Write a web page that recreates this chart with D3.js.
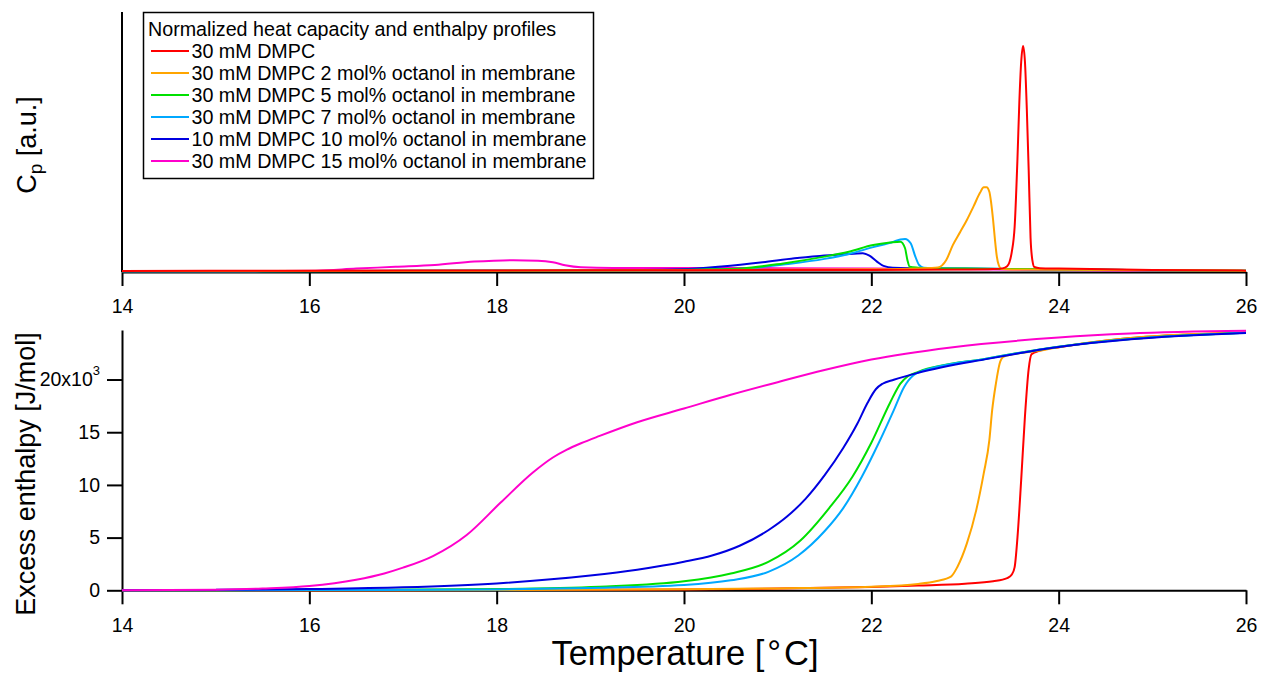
<!DOCTYPE html>
<html><head><meta charset="utf-8">
<script src="https://cdn.jsdelivr.net/npm/d3@7"></script>
<style>
html,body{margin:0;padding:0;background:#fff;}
svg{display:block;font-family:"Liberation Sans",Arial,Helvetica,sans-serif;}
</style></head>
<body>
<svg id="chart" width="1261" height="673"></svg>
<script>
// ---------- data ----------
const xTicks = [14, 16, 18, 20, 22, 24, 26];
const hTicks = [0, 5000, 10000, 15000, 20000];
const seriesNames = [
  "30 mM DMPC",
  "30 mM DMPC 2 mol% octanol in membrane",
  "30 mM DMPC 5 mol% octanol in membrane",
  "30 mM DMPC 7 mol% octanol in membrane",
  "10 mM DMPC 10 mol% octanol in membrane",
  "30 mM DMPC 15 mol% octanol in membrane"
];
const seriesColors = ["#ff0000", "#ffa500", "#00e000", "#00a8ff", "#0000e0", "#ff00cc"];

// heat capacity profiles [T (°C), Cp (a.u.)]
const cpRed = [[14,0.004],[16,0.006],[18,0.007],[20,0.008],[22,0.009],[23,0.011],[23.3,0.013],[23.4,0.016],[23.45,0.025],[23.5,0.09],[23.53,0.2],[23.56,0.5],[23.58,0.75],[23.6,0.93],[23.62,1.0],[23.64,0.93],[23.66,0.72],[23.68,0.45],[23.7,0.15],[23.72,0.05],[23.74,0.022],[23.8,0.017],[24,0.015],[24.5,0.012],[25,0.009],[26,0.006]];
const cpOrange = [[14,0.004],[18,0.006],[20,0.008],[22,0.012],[22.5,0.016],[22.71,0.02],[22.8,0.053],[22.87,0.119],[22.95,0.178],[23.02,0.23],[23.09,0.289],[23.16,0.35],[23.2,0.375],[23.23,0.375],[23.26,0.355],[23.28,0.304],[23.3,0.23],[23.32,0.142],[23.34,0.068],[23.36,0.031],[23.39,0.013],[23.5,0.011],[24,0.01],[25,0.008],[26,0.006]];
const cpGreen = [[14,0.003],[18,0.005],[19.5,0.008],[20.2,0.011],[20.62,0.016],[21.06,0.038],[21.5,0.068],[21.76,0.09],[22.02,0.119],[22.2,0.13],[22.31,0.134],[22.36,0.105],[22.385,0.053],[22.41,0.023],[22.5,0.019],[22.6,0.017],[23,0.015],[24,0.012],[25,0.008],[26,0.005]];
const cpTeal = [[14,0.003],[18,0.005],[19.5,0.007],[20.2,0.01],[20.62,0.014],[21.06,0.033],[21.5,0.058],[21.76,0.08],[22.02,0.11],[22.24,0.134],[22.31,0.144],[22.36,0.146],[22.42,0.127],[22.47,0.068],[22.51,0.031],[22.56,0.019],[22.7,0.017],[23,0.015],[24,0.012],[25,0.008],[26,0.005]];
const cpBlue = [[14,0.003],[17,0.005],[19,0.007],[19.97,0.012],[20.4,0.024],[20.84,0.043],[21.18,0.061],[21.45,0.071],[21.7,0.078],[21.91,0.083],[21.98,0.072],[22.06,0.046],[22.13,0.027],[22.23,0.019],[22.84,0.015],[23.9,0.012],[25,0.008],[26,0.005]];
const cpMagenta = [[14,0.003],[15,0.003],[15.5,0.004],[16.07,0.006],[16.5,0.015],[16.92,0.023],[17.34,0.031],[17.76,0.046],[17.97,0.05],[18.18,0.052],[18.44,0.05],[18.6,0.043],[18.73,0.03],[18.9,0.021],[19.24,0.018],[20,0.018],[21,0.017],[22,0.015],[23,0.012],[24,0.009],[25,0.006],[26,0.004]];

// excess enthalpy profiles [T (°C), H (J/mol)]
const hRed = [[14,0],[16,5],[18,20],[20,80],[21,160],[22,320],[22.5,450],[23,620],[23.3,850],[23.45,1150],[23.5,1500],[23.53,2200],[23.56,5000],[23.6,10500],[23.64,16500],[23.68,21000],[23.71,22400],[23.8,22750],[24.02,23090],[24.39,23560],[24.77,23940],[25.34,24260],[26,24450]];
const hOrange = [[14,0],[16,5],[18,25],[20,90],[21,180],[22,340],[22.5,600],[22.7,880],[22.85,1300],[22.92,2240],[23.02,4450],[23.12,7610],[23.2,11090],[23.26,14250],[23.29,17090],[23.33,19620],[23.37,21520],[23.41,22150],[23.5,22370],[23.84,22800],[24.02,23110],[24.39,23580],[24.77,23950],[25.34,24280],[26,24470]];
const hGreen = [[14,0],[16,30],[18,120],[19.1,340],[20,850],[20.5,1600],[20.9,2700],[21.24,4700],[21.55,7800],[21.8,10800],[22,14000],[22.2,17800],[22.31,19620],[22.39,20310],[22.5,20730],[23.24,22000],[24,23120],[24.77,23850],[26,24440]];
const hTeal = [[14,0],[16,20],[18,80],[19,220],[20,500],[20.5,950],[20.9,1750],[21.22,3300],[21.5,5600],[21.7,7800],[21.9,10800],[22.08,14000],[22.24,17100],[22.35,19300],[22.45,20410],[22.52,20730],[23.24,22000],[24,23120],[24.77,23850],[26,24440]];
const hBlue = [[14,0],[15,40],[16,120],[17,280],[18,650],[19,1400],[19.5,1950],[20,2700],[20.3,3300],[20.6,4250],[20.9,5700],[21.1,7000],[21.3,8700],[21.5,10900],[21.7,13500],[21.85,15800],[21.96,17800],[22.05,19100],[22.12,19600],[22.24,19980],[22.5,20640],[23.24,21960],[24,23090],[24.77,23820],[26,24420]];
const hMagenta = [[14,0],[15,60],[15.5,170],[16,400],[16.5,1000],[16.8,1600],[17,2150],[17.32,3250],[17.68,5250],[18.04,8300],[18.39,11200],[18.6,12600],[18.75,13350],[18.9,13950],[19.1,14650],[19.5,15950],[20,17250],[20.5,18550],[21,19750],[21.5,20900],[22,21900],[22.85,23050],[24,23980],[24.76,24360],[26,24620]];

const cpSeries = [cpRed, cpOrange, cpGreen, cpTeal, cpBlue, cpMagenta];
const hSeries = [hRed, hOrange, hGreen, hTeal, hBlue, hMagenta];

// ---------- layout ----------
const svg = d3.select("#chart");
const X0 = 122, X1 = 1246;
const x = d3.scaleLinear().domain([14, 26]).range([X0, X1]);
const yTop = d3.scaleLinear().domain([0, 1.15]).range([272, 12]);
const yBot = d3.scaleLinear().domain([0, 24700]).range([590.3, 330]);
const tickFont = 19.5;
const legendFont = 19.7;

// ---------- top panel ----------
const gTop = svg.append("g");
gTop.append("line").attr("x1", X0).attr("x2", X0).attr("y1", yTop.range()[1]).attr("y2", yTop(0))
  .attr("stroke", "#000").attr("stroke-width", 2);
const axTop = gTop.append("g").attr("transform", `translate(0,${yTop(0)})`)
  .call(d3.axisBottom(x).tickValues(xTicks).tickFormat(d3.format("d")).tickSize(14).tickSizeOuter(0).tickPadding(13));
styleAxis(axTop);

const lineTop = d3.line().x(d => x(d[0])).y(d => yTop(d[1])).curve(d3.curveMonotoneX);
const topOrder = [5, 4, 3, 2, 1, 0];
gTop.selectAll("path.cp").data(topOrder).join("path").attr("class", "cp")
  .attr("d", i => lineTop(cpSeries[i])).attr("fill", "none")
  .attr("stroke", i => seriesColors[i]).attr("stroke-width", 2).attr("stroke-linejoin", "round");

const tl = svg.append("text").attr("transform", `translate(36,${145}) rotate(-90)`)
  .attr("text-anchor", "middle").attr("font-size", 27).attr("fill", "#000");
tl.append("tspan").text("C");
tl.append("tspan").attr("font-size", 19).attr("dy", 6).text("p");
tl.append("tspan").attr("dy", -6).text(" [a.u.]");

// ---------- bottom panel ----------
const gBot = svg.append("g");
const axBotX = gBot.append("g").attr("transform", `translate(0,${yBot(0)})`)
  .call(d3.axisBottom(x).tickValues(xTicks).tickFormat(d3.format("d")).tickSize(14).tickSizeOuter(0).tickPadding(14));
styleAxis(axBotX);
const axBotY = gBot.append("g").attr("transform", `translate(${X0},0)`)
  .call(d3.axisLeft(yBot).tickValues(hTicks).tickSize(15).tickSizeOuter(0).tickPadding(7)
    .tickFormat(d => d === 20000 ? "20x10" : String(d / 1000)));
styleAxis(axBotY);
axBotY.selectAll(".tick text").filter(d => d === 20000)
  .append("tspan").attr("font-size", 13).attr("dy", -11).text("3");

const lineBot = d3.line().x(d => x(d[0])).y(d => yBot(d[1])).curve(d3.curveMonotoneX);
gBot.selectAll("path.h").data([0, 1, 2, 3, 4, 5]).join("path").attr("class", "h")
  .attr("d", i => lineBot(hSeries[i])).attr("fill", "none")
  .attr("stroke", i => seriesColors[i]).attr("stroke-width", 2).attr("stroke-linejoin", "round");

svg.append("text").attr("transform", `translate(35,${474}) rotate(-90)`)
  .attr("text-anchor", "middle").attr("font-size", 27).attr("fill", "#000")
  .text("Excess enthalpy [J/mol]");

const xt = svg.append("text").attr("x", 685).attr("y", 665).attr("text-anchor", "middle")
  .attr("font-size", 34.5).attr("fill", "#000");
xt.append("tspan").text("Temperature [");
xt.append("tspan").attr("dx", 3).text("°");
xt.append("tspan").attr("dx", 3).text("C]");

// ---------- legend ----------
const lg = svg.append("g");
lg.append("rect").attr("x", 143.5).attr("y", 12.5).attr("width", 450).attr("height", 166)
  .attr("fill", "#fff").attr("stroke", "#000").attr("stroke-width", 1.5);
lg.append("text").attr("x", 148).attr("y", 36).attr("font-size", legendFont).attr("fill", "#000")
  .text("Normalized heat capacity and enthalpy profiles");
seriesNames.forEach((name, i) => {
  const yb = 58 + i * 22;
  lg.append("line").attr("x1", 151).attr("x2", 189).attr("y1", yb - 7).attr("y2", yb - 7)
    .attr("stroke", seriesColors[i]).attr("stroke-width", 2);
  lg.append("text").attr("x", 191.5).attr("y", yb).attr("font-size", legendFont).attr("fill", "#000").text(name);
});

function styleAxis(g) {
  g.select(".domain").attr("stroke", "#000").attr("stroke-width", 2);
  g.selectAll(".tick line").attr("stroke", "#000").attr("stroke-width", 2);
  g.selectAll(".tick text").attr("font-size", tickFont).attr("fill", "#000")
    .attr("font-family", "Liberation Sans, Arial, sans-serif");
}
</script>
</body></html>
